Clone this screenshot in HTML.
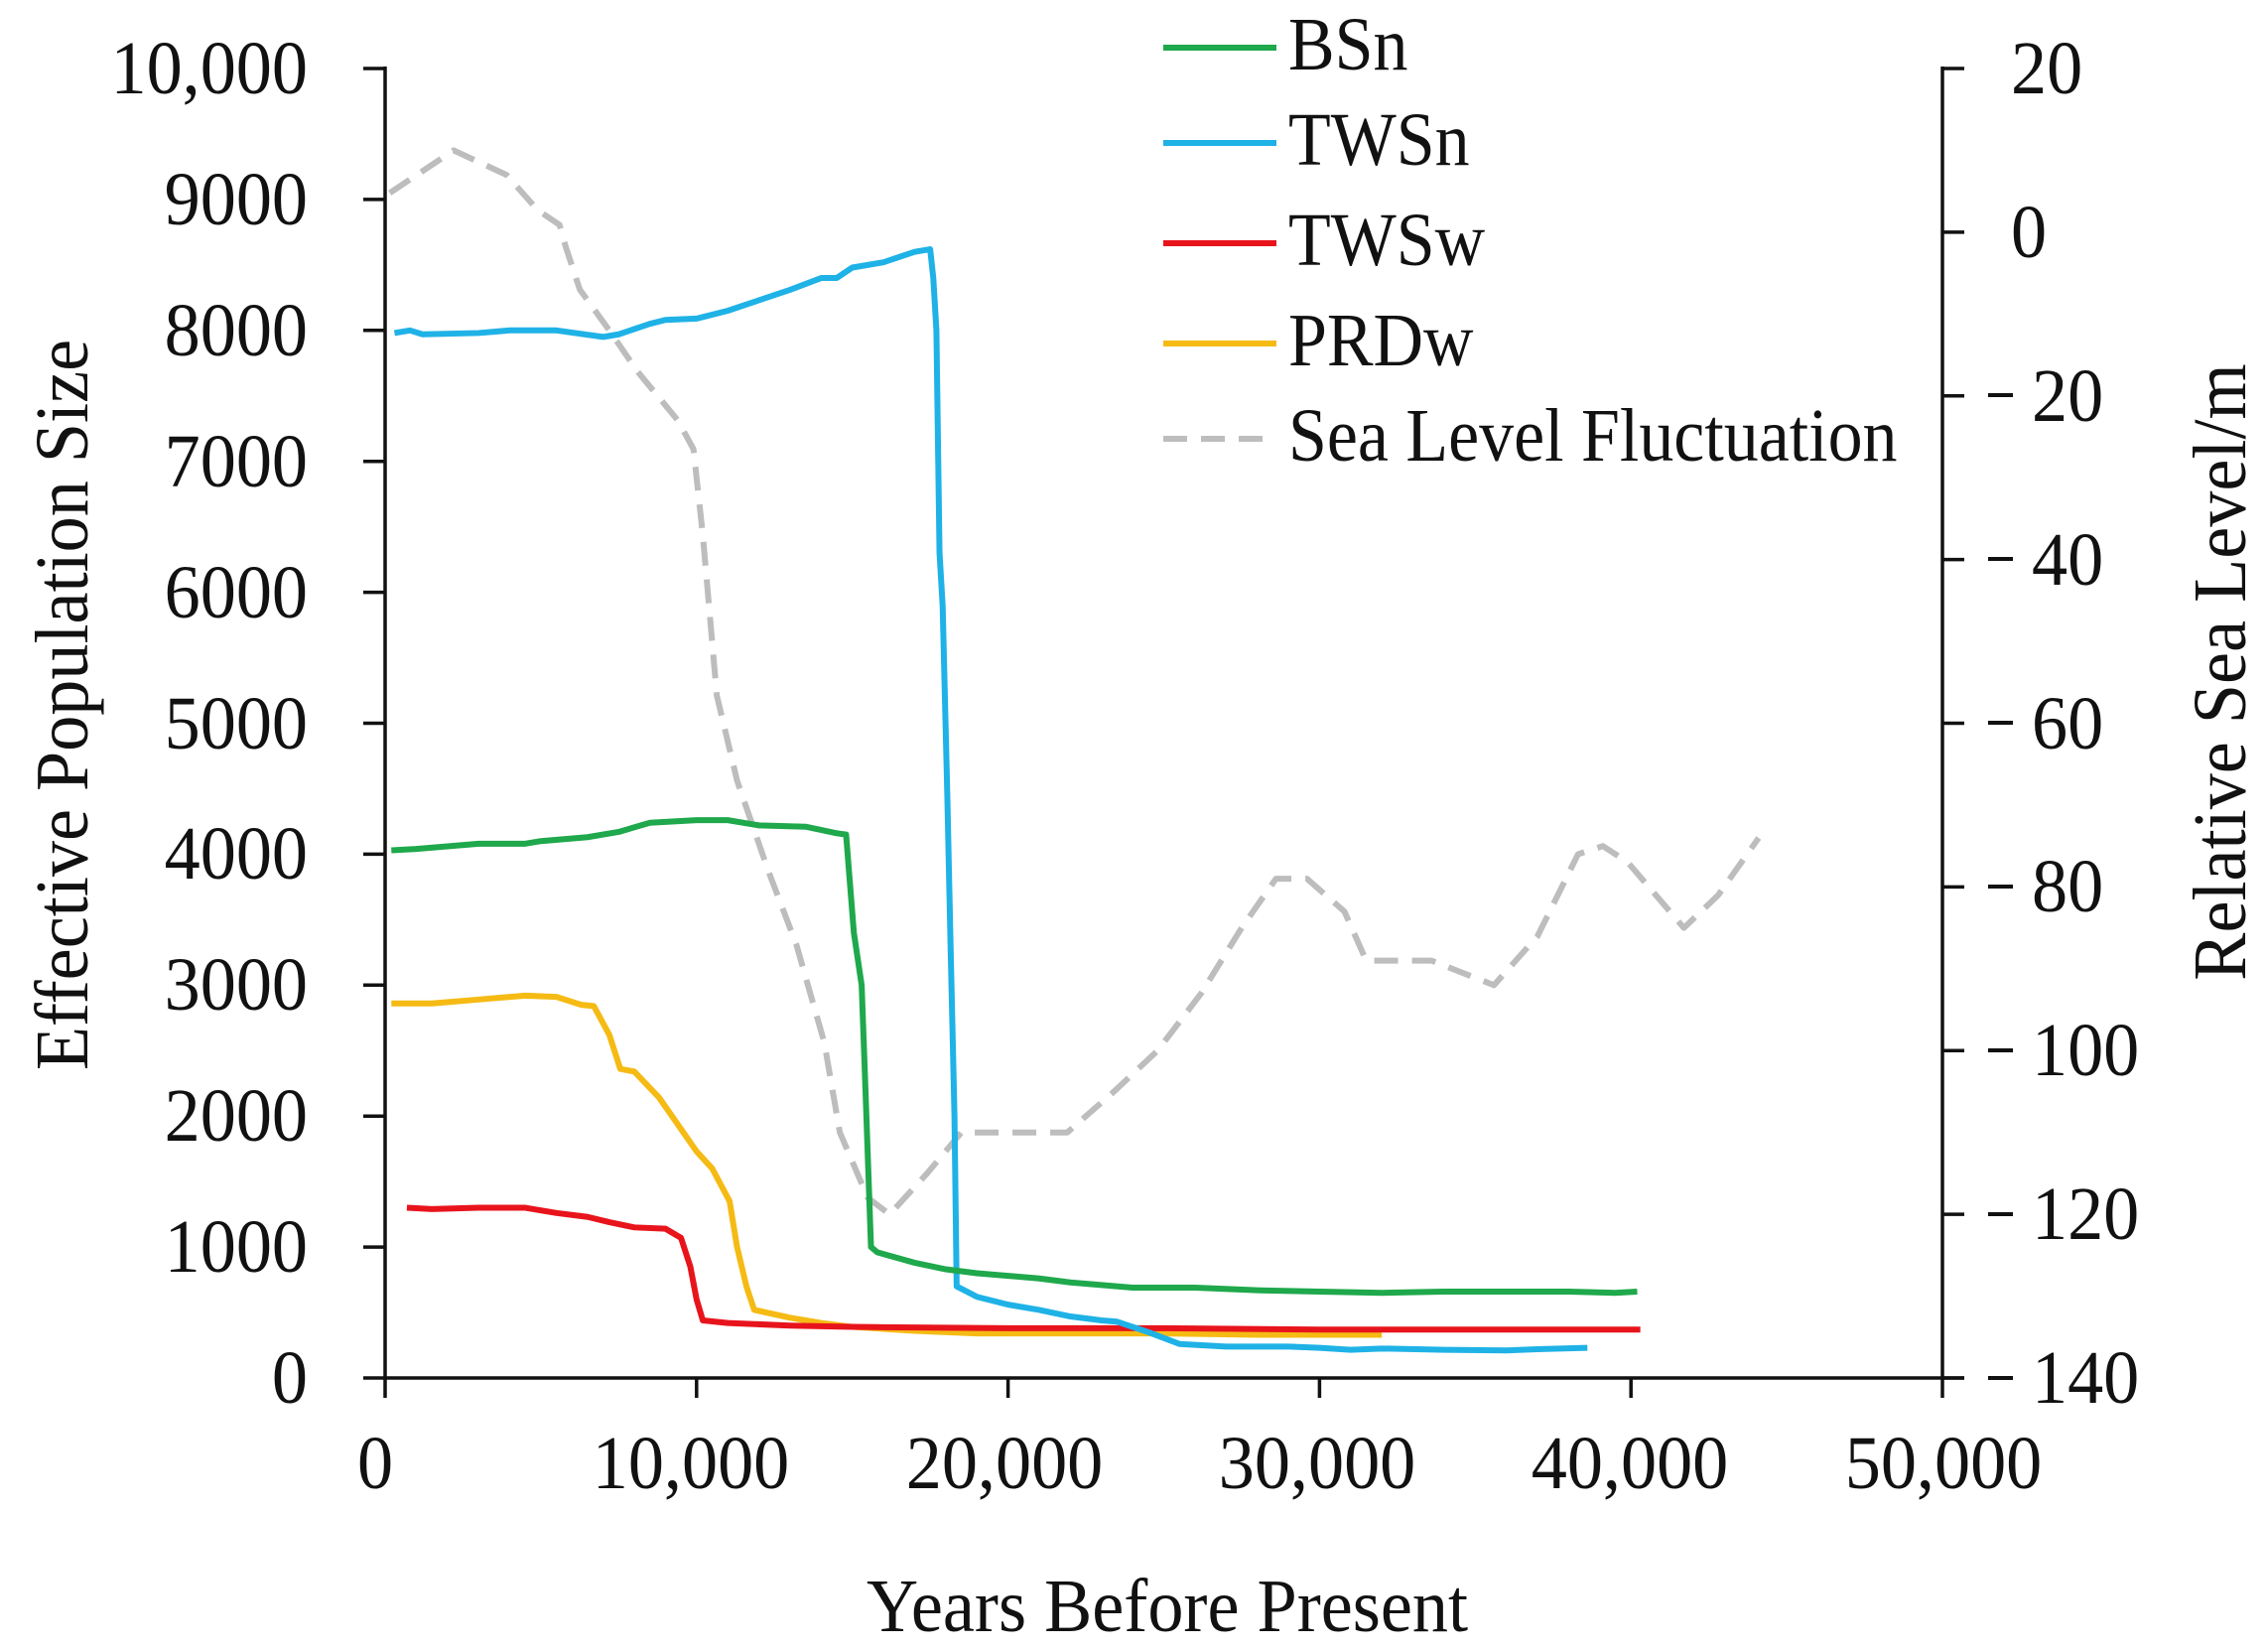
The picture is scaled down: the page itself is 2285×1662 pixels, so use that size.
<!DOCTYPE html>
<html><head><meta charset="utf-8"><style>
html,body{margin:0;padding:0;background:#fff;}
svg{display:block;}
text{font-family:"Liberation Serif",serif;fill:#111;}
.t{font-size:76px;}
.s{vector-effect:non-scaling-stroke;fill:none;stroke-width:6;stroke-linejoin:round;}
</style></head><body>
<svg width="2285" height="1662" viewBox="0 0 2285 1662" xmlns="http://www.w3.org/2000/svg">
<g transform="translate(388,233.9) scale(31.38,-8.244)">
<polyline class="s" stroke="#bdbdbd" stroke-dasharray="24 14" points="0.15,4.8 2.2,10 3.9,7 4.9,2.7 5.6,0.9 5.8,-1.8 6.25,-7 7.2,-12 8.1,-17 9.4,-23 9.9,-26.5 10.2,-37 10.65,-56.6 11.3,-67 12.3,-78 13.2,-87 14.1,-99 14.6,-110 15.5,-118 16.2,-120 17.4,-115 18.5,-110 20.1,-110 21.9,-110 23.4,-105 24.8,-100 26.2,-93 27.5,-85 28.6,-79 29.6,-79 30.8,-83 31.5,-89 33.6,-89 35.6,-92 37,-86 38.3,-76 39.1,-75 39.9,-77 41.7,-85 42.8,-81 44.1,-74"/>
</g>
<g transform="translate(388,1388) scale(31.38,-0.1319)">
<polyline class="s" stroke="#f5bb14" points="0.2,2860 1.5,2860 3,2890 4.5,2920 5.5,2910 6.3,2850 6.7,2840 7.2,2620 7.55,2360 8,2340 8.8,2140 10,1730 10.5,1600 11.06,1350 11.3,1000 11.6,700 11.85,520 13,460 14,420 15,390 17,360 19,340 22,340 25,340 28,330 32,330"/>
<polyline class="s" stroke="#e8141c" points="0.7,1300 1.5,1290 3,1300 4.5,1300 5.5,1260 6.5,1230 7.2,1190 8,1150 9,1140 9.5,1070 9.8,850 10,600 10.2,440 11,420 13,400 15,390 20,380 25,380 30,370 35,370 40.3,370"/>
<polyline class="s" stroke="#1fb2e6" points="0.3,7980 0.8,8000 1.2,7970 3,7980 4,8000 5.5,8000 7,7950 7.5,7970 8.5,8050 9,8080 10,8090 11,8150 12,8230 13,8310 14,8400 14.5,8400 15,8480 16,8520 17,8600 17.5,8620 17.6,8400 17.7,8000 17.8,6300 17.9,5900 18.05,4450 18.15,3350 18.28,2000 18.35,700 19,620 20,560 21,520 22,470 23,440 23.5,430 24.5,350 25.5,260 27,240 29,240 30,230 31,215 32,225 34,215 36,210 37,220 38.6,230"/>
<polyline class="s" stroke="#1fa84c" points="0.2,4030 1,4040 2,4060 3,4080 4.5,4080 5,4100 6.5,4130 7.5,4170 8.5,4240 10,4260 11,4260 12,4220 13.5,4210 14.5,4160 14.8,4150 15.05,3400 15.3,3000 15.4,2350 15.6,1000 15.8,960 17,880 18,830 19,800 20,780 21,760 22,730 23,710 24,690 26,690 28,670 30,660 32,650 34,660 36,660 38,660 39.5,650 40.2,660"/>
</g>
<g stroke="#111" stroke-width="3.5" fill="none">
<line x1="388" y1="67" x2="388" y2="1390"/>
<line x1="1957" y1="67" x2="1957" y2="1408"/>
<line x1="366" y1="1388" x2="1979" y2="1388"/>
<path d="M366 69H388M366 200.9H388M366 332.8H388M366 464.7H388M366 596.6H388M366 728.5H388M366 860.4H388M366 992.3H388M366 1124.2H388M366 1256.1H388"/>
<path d="M1957 69H1979M1957 233.9H1979M1957 398.8H1979M1957 563.6H1979M1957 728.5H1979M1957 893.4H1979M1957 1058.3H1979M1957 1223.1H1979M1957 1388H1979"/>
<path d="M388 1388V1408M701.8 1388V1408M1015.6 1388V1408M1329.4 1388V1408M1643.2 1388V1408"/>
</g>
<g class="t" text-anchor="end">
<text transform="translate(310,94) scale(0.95,1)">10,000</text>
<text transform="translate(310,226) scale(0.95,1)">9000</text>
<text transform="translate(310,358) scale(0.95,1)">8000</text>
<text transform="translate(310,490) scale(0.95,1)">7000</text>
<text transform="translate(310,622) scale(0.95,1)">6000</text>
<text transform="translate(310,754) scale(0.95,1)">5000</text>
<text transform="translate(310,885) scale(0.95,1)">4000</text>
<text transform="translate(310,1017) scale(0.95,1)">3000</text>
<text transform="translate(310,1149) scale(0.95,1)">2000</text>
<text transform="translate(310,1281) scale(0.95,1)">1000</text>
<text transform="translate(310,1413) scale(0.95,1)">0</text>
</g>
<g class="t">
<text transform="translate(2026,94) scale(0.95,1)">20</text>
<text transform="translate(2026,259) scale(0.95,1)">0</text>
<text transform="translate(2047,424) scale(0.95,1)">20</text>
<text transform="translate(2047,589) scale(0.95,1)">40</text>
<text transform="translate(2047,754) scale(0.95,1)">60</text>
<text transform="translate(2047,918) scale(0.95,1)">80</text>
<text transform="translate(2047,1083) scale(0.95,1)">100</text>
<text transform="translate(2047,1248) scale(0.95,1)">120</text>
<text transform="translate(2047,1413) scale(0.95,1)">140</text>
</g>
<g fill="#111">
<rect x="2003" y="396" width="25" height="4"/>
<rect x="2003" y="561" width="25" height="4"/>
<rect x="2003" y="726" width="25" height="4"/>
<rect x="2003" y="891" width="25" height="4"/>
<rect x="2003" y="1056" width="25" height="4"/>
<rect x="2003" y="1221" width="25" height="4"/>
<rect x="2003" y="1386" width="25" height="4"/>
</g>
<g class="t" text-anchor="middle">
<text transform="translate(378,1499) scale(0.95,1)">0</text>
<text transform="translate(696,1499) scale(0.95,1)">10,000</text>
<text transform="translate(1012,1499) scale(0.95,1)">20,000</text>
<text transform="translate(1327,1499) scale(0.95,1)">30,000</text>
<text transform="translate(1642,1499) scale(0.95,1)">40,000</text>
<text transform="translate(1958,1499) scale(0.95,1)">50,000</text>
</g>
<g class="t" text-anchor="middle">
<text transform="translate(1176,1643) scale(0.95,1)">Years Before Present</text>
<text transform="translate(88,710) rotate(-90) scale(0.95,1)">Effective Population Size</text>
<text transform="translate(2262,677) rotate(-90) scale(0.95,1)">Relative Sea Level/m</text>
</g>
<g stroke-width="6">
<line x1="1172" y1="48" x2="1286" y2="48" stroke="#1fa84c"/>
<line x1="1172" y1="144" x2="1286" y2="144" stroke="#1fb2e6"/>
<line x1="1172" y1="245" x2="1286" y2="245" stroke="#e8141c"/>
<line x1="1172" y1="346" x2="1286" y2="346" stroke="#f5bb14"/>
<line x1="1172" y1="442" x2="1286" y2="442" stroke="#bdbdbd" stroke-dasharray="24 14"/>
</g>
<g class="t">
<text transform="translate(1298,70) scale(0.92,1)">BSn</text>
<text transform="translate(1298,166) scale(0.92,1)">TWSn</text>
<text transform="translate(1298,267) scale(0.92,1)">TWSw</text>
<text transform="translate(1298,368) scale(0.92,1)">PRDw</text>
<text transform="translate(1298,464) scale(0.92,1)">Sea Level Fluctuation</text>
</g>
</svg>
</body></html>
